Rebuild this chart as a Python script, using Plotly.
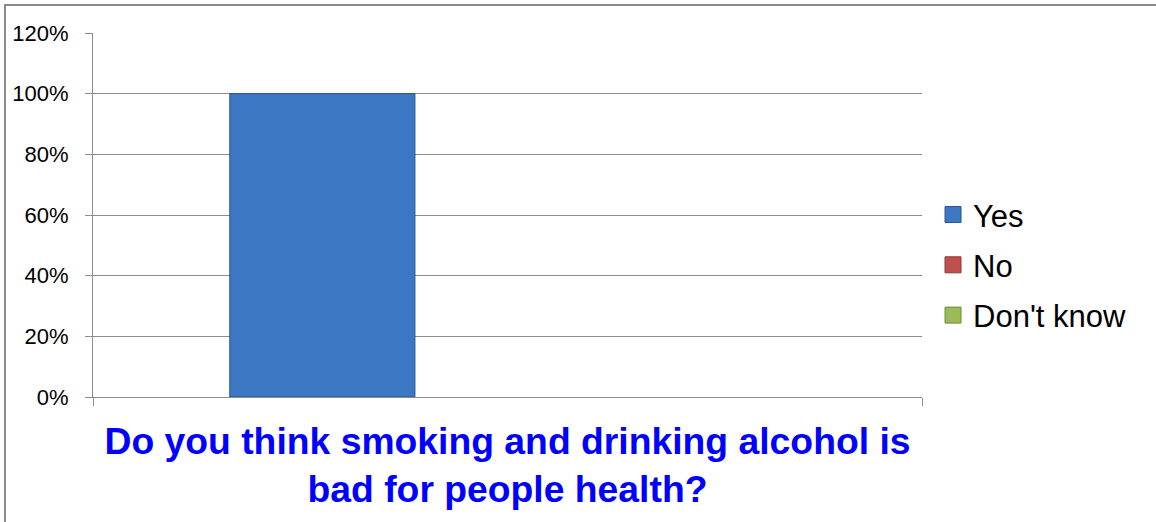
import plotly.graph_objects as go

# Survey answers (share of respondents)
question = "Do you think smoking and drinking alcohol is<br>bad for people health?"
category = [""]
answers = ["Yes", "No", "Don't know"]
shares = [1.00, 0.00, 0.00]
colors = ["#3B77C3", "#C0504D", "#9BBB59"]
edge_colors = ["#2A5590", "#8C3836", "#71893F"]

y_ticks = [0, 0.2, 0.4, 0.6, 0.8, 1.0, 1.2]

fig = go.Figure()
for name, val, col, edge in zip(answers, shares, colors, edge_colors):
    fig.add_trace(go.Bar(
        x=category, y=[val], name=name, legendgroup=name, showlegend=False,
        marker=dict(color=col, line=dict(color=edge, width=1 if val > 0 else 0)),
    ))

# Larger square swatches for the legend entries
for name, col, edge in zip(answers, colors, edge_colors):
    fig.add_trace(go.Scatter(
        x=[None], y=[None], mode="markers", name=name, legendgroup=name,
        marker=dict(symbol="square", size=16, color=col,
                    line=dict(color=edge, width=1)),
        hoverinfo="skip",
    ))

font_family = "Arial, Liberation Sans, sans-serif"
grid_col = "#8C8C8C"

fig.update_layout(
    width=1156, height=522,
    margin=dict(l=93, r=234, t=33, b=125),
    paper_bgcolor="white", plot_bgcolor="white",
    barmode="group", bargap=0.33, bargroupgap=0,
    font=dict(family=font_family, color="black"),
    showlegend=True,
    legend=dict(
        x=1.0133, y=0.363, xanchor="left", yanchor="middle",
        font=dict(size=31, family=font_family, color="black"),
        traceorder="grouped", tracegroupgap=7, itemsizing="trace",
        bgcolor="rgba(0,0,0,0)",
    ),
    xaxis=dict(
        range=[-0.5, 0.5], showticklabels=False,
        ticks="outside", tickson="boundaries", ticklen=8,
        tickcolor=grid_col, showline=True, linecolor=grid_col, linewidth=1,
        showgrid=False, zeroline=False,
        title=dict(text=question, standoff=30,
                   font=dict(size=37.3, family=font_family, color="#0000FF",
                             weight="bold")),
    ),
    yaxis=dict(
        range=[0, 1.2], tickvals=y_ticks, tickformat=".0%",
        ticks="outside", ticklen=7, tickcolor=grid_col,
        showline=True, linecolor=grid_col, linewidth=1,
        showgrid=True, gridcolor=grid_col, gridwidth=1,
        zeroline=False, ticklabelstandoff=12,
        tickfont=dict(size=22, family=font_family, color="black"),
    ),
)

# Chart frame around the whole figure
fig.add_shape(type="rect", xref="paper", yref="paper",
              x0=-0.1062, x1=1.6, y0=-0.6, y1=1.0769,
              line=dict(color="#8A8A8A", width=2), fillcolor="rgba(0,0,0,0)",
              layer="below")

fig.write_html("out.html")
